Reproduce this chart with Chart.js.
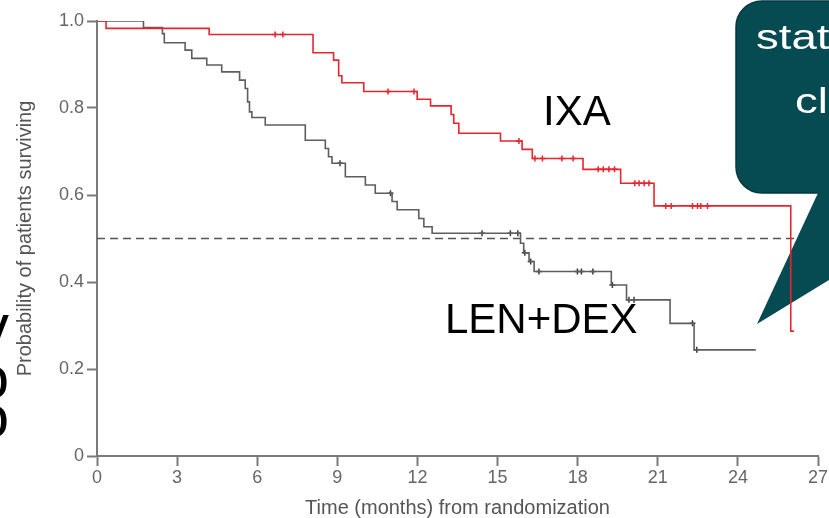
<!DOCTYPE html>
<html>
<head>
<meta charset="utf-8">
<script src="https://cdn.jsdelivr.net/npm/chart.js@4.4.1/dist/chart.umd.min.js"></script>
<style>
  html, body { margin: 0; padding: 0; background: #fff; }
  #wrap { width: 829px; height: 518px; }
</style>
</head>
<body>
<div id="wrap"><canvas id="kmChart" width="829" height="518"></canvas></div>
<script>
// Kaplan-Meier curves (time in months, probability surviving)
const ixaTimes = [0, 0.34, 4.2, 8.09, 8.86, 9.05, 9.17, 9.99, 11.99, 12.49, 13.26, 13.36, 13.55, 15.11, 15.92, 16.3, 18.2, 19.61, 20.86, 25.98, 26.1];
const ixaSurv  = [1.0, 0.983, 0.969, 0.927, 0.910, 0.874, 0.858, 0.838, 0.820, 0.805, 0.785, 0.765, 0.742, 0.724, 0.705, 0.684, 0.659, 0.627, 0.575, 0.287, 0.287];
const ixaCensored = [6.67, 6.96, 10.9, 11.87, 15.8, 16.4, 16.68, 17.41, 17.83, 18.77, 18.96, 19.17, 19.38, 20.14, 20.3, 20.49, 20.67, 21.3, 21.5, 22.3, 22.49, 22.61, 22.86];

const lenTimes = [0, 1.74, 2.45, 2.52, 3.3, 3.55, 4.11, 4.67, 5.34, 5.55, 5.64, 5.71, 5.8, 6.3, 7.8, 8.55, 8.67, 8.8, 9.3, 10.05, 10.42, 11.05, 11.24, 12.05, 12.24, 12.55, 15.86, 15.98, 16.18, 16.37, 19.26, 19.83, 21.46, 22.36, 24.67];
const lenSurv  = [1.0, 0.985, 0.971, 0.950, 0.933, 0.914, 0.899, 0.883, 0.864, 0.845, 0.814, 0.791, 0.778, 0.761, 0.726, 0.707, 0.688, 0.673, 0.642, 0.623, 0.604, 0.585, 0.566, 0.546, 0.527, 0.512, 0.489, 0.467, 0.447, 0.424, 0.393, 0.359, 0.305, 0.244, 0.244];
const lenCensored = [9.1, 10.99, 14.42, 15.48, 15.76, 16.02, 16.24, 16.55, 17.99, 18.14, 18.57, 19.3, 19.92, 20.11, 22.3, 22.46];

const medianLine = [0.5, 0.5];
const xTicks = [0, 3, 6, 9, 12, 15, 18, 21, 24, 27];
const yTicks = [0, 0.2, 0.4, 0.6, 0.8, 1.0];

const RED = '#e6262f';
const GREY = '#5e5e5e';
const AXIS = '#7a7a7a';

// value of a KM curve at time t
survAt = (times, surv, t) => {
    let v = surv[0];
    for (let i = 0; i < times.length; i++) {
        if (times[i] <= t) v = surv[i];
    }
    return v;
};

toPoints = (times, surv) => times.map((t, i) => ({x: t, y: surv[i]}));

// slide text drawn a bit wider than it is tall, like the stretched slide
wideText = (ctx, text, x, y, stretch) => {
    ctx.save();
    ctx.translate(x, y);
    ctx.scale(stretch, 1);
    ctx.fillText(text, 0, 0);
    ctx.restore();
};

// callout + slide text laid over the figure
const slideOverlay = {
    id: 'slideOverlay',
    afterDatasetDraw(chart, args) {
        if (args.index !== 4) return; // after the dashed line, before the curves
        const ctx = chart.ctx;
        ctx.save();
        ctx.fillStyle = '#064a52';
        ctx.strokeStyle = '#03393f';
        ctx.lineWidth = 1.5;
        ctx.beginPath();
        ctx.roundRect(736, 1, 140, 192, 26);
        ctx.fill();
        ctx.stroke();
        ctx.beginPath();
        ctx.moveTo(812, 188);
        ctx.lineTo(818, 193);
        ctx.lineTo(757, 324);
        ctx.lineTo(829, 280);
        ctx.lineTo(829, 188);
        ctx.closePath();
        ctx.fill();
        ctx.fillStyle = '#ffffff';
        ctx.font = '35px "Liberation Sans", Arial, sans-serif';
        ctx.textAlign = 'left';
        ctx.textBaseline = 'alphabetic';
        wideText(ctx, 'stat', 756, 49, 1.3);
        wideText(ctx, 'cl', 795, 113, 1.3);
        ctx.restore();
    },
    afterDraw(chart) {
        const ctx = chart.ctx;
        ctx.save();
        ctx.fillStyle = '#000';
        ctx.textBaseline = 'alphabetic';
        ctx.textAlign = 'left';
        ctx.font = '42px "Liberation Sans", Arial, sans-serif';
        ctx.fillText('IXA', 543, 125);
        ctx.fillText('LEN+DEX', 445, 333);
        // clipped slide letters on the far left
        ctx.textAlign = 'right';
        ctx.font = '60px "Liberation Sans", Arial, sans-serif';
        ctx.fillText('v', 9, 346);
        ctx.fillText('o', 9, 398);
        ctx.fillText('o', 9, 437);
        ctx.restore();
    }
};

const lineDefaults = {
    stepped: 'before',
    pointRadius: 0,
    borderWidth: 1.6,
    fill: false
};

const censorDefaults = {
    showLine: false,
    pointStyle: 'cross',
    pointRadius: 3,
    pointBorderWidth: 1.5
};

const tickFont = {family: '"Liberation Sans", Arial, sans-serif', size: 18};

const ctx = document.getElementById('kmChart').getContext('2d');
const kmChart = new Chart(ctx, {
    type: 'line',
    data: {
        datasets: [
            {...lineDefaults, label: 'IXA', data: toPoints(ixaTimes, ixaSurv), borderColor: RED},
            {...censorDefaults, label: 'IXA censored', data: ixaCensored.map(t => ({x: t, y: survAt(ixaTimes, ixaSurv, t)})), borderColor: RED, pointBorderColor: RED},
            {...lineDefaults, label: 'LEN+DEX', data: toPoints(lenTimes, lenSurv), borderColor: GREY},
            {...censorDefaults, label: 'LEN+DEX censored', data: lenCensored.map(t => ({x: t, y: survAt(lenTimes, lenSurv, t)})), borderColor: '#3a3a3a', pointBorderColor: '#3a3a3a'},
            {label: 'median', data: [{x: 0, y: medianLine[0]}, {x: 27, y: medianLine[1]}], borderColor: '#555', borderWidth: 1.6, borderDash: [8, 5], pointRadius: 0}
        ]
    },
    options: {
        responsive: false,
        animation: false,
        layout: {padding: {left: 0, right: 11, top: 21, bottom: 0}},
        plugins: {
            legend: {display: false},
            tooltip: {enabled: false}
        },
        scales: {
            x: {
                type: 'linear',
                min: 0,
                max: 27,
                afterBuildTicks: (scale) => { scale.ticks = xTicks.map(v => ({value: v})); },
                afterFit: (scale) => { scale.height = 62; scale.paddingLeft = 0; scale.paddingRight = 0; },
                ticks: {color: '#666', padding: 1, maxRotation: 0, font: tickFont},
                grid: {drawOnChartArea: false, drawTicks: true, tickLength: 10, tickColor: AXIS, tickWidth: 2},
                border: {display: true, color: AXIS, width: 2},
                title: {
                    display: true,
                    text: 'Time (months) from randomization',
                    color: '#555',
                    padding: {top: 0, bottom: 0},
                    font: {family: '"Liberation Sans", Arial, sans-serif', size: 20, lineHeight: 1.0}
                }
            },
            y: {
                min: 0,
                max: 1,
                afterBuildTicks: (scale) => { scale.ticks = yTicks.map(v => ({value: v})); },
                afterFit: (scale) => { scale.width = 97; scale.paddingTop = 0; scale.paddingBottom = 0; },
                ticks: {
                    color: '#666',
                    padding: 3,
                    font: tickFont,
                    callback: (v) => v === 0 ? '0' : v.toFixed(1)
                },
                grid: {drawOnChartArea: false, drawTicks: true, tickLength: 10, tickColor: AXIS, tickWidth: 2},
                border: {display: true, color: AXIS, width: 2},
                title: {
                    display: true,
                    text: 'Probability of patients surviving',
                    color: '#555',
                    padding: {top: 13, bottom: 0},
                    font: {family: '"Liberation Sans", Arial, sans-serif', size: 20, lineHeight: 1.2}
                }
            }
        }
    },
    plugins: [slideOverlay]
});
</script>
</body>
</html>
